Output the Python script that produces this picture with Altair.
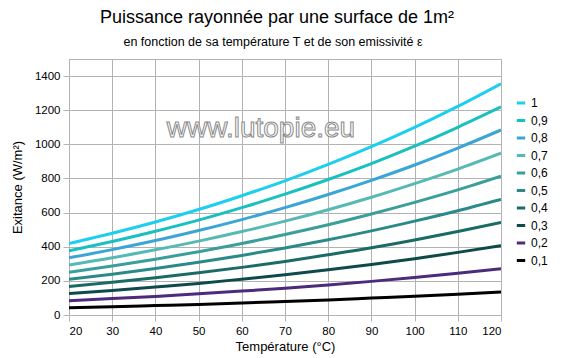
import altair as alt
import pandas as pd

temperatures = [20, 30, 40, 50, 60, 70, 80, 90, 100, 110, 120]
labels = ["1", "0,9", "0,8", "0,7", "0,6", "0,5", "0,4", "0,3", "0,2", "0,1"]
s_10 = [419, 479, 545, 618, 699, 786, 882, 986, 1099, 1222, 1355]
s_09 = [377, 431, 491, 556, 629, 708, 794, 887, 989, 1100, 1219]
s_08 = [335, 383, 436, 495, 559, 629, 706, 789, 879, 978, 1084]
s_07 = [293, 335, 382, 433, 489, 550, 617, 690, 770, 855, 948]
s_06 = [251, 287, 327, 371, 419, 472, 529, 592, 660, 733, 813]
s_05 = [209, 239, 273, 309, 349, 393, 441, 493, 550, 611, 677]
s_04 = [167, 192, 218, 247, 279, 314, 353, 394, 440, 489, 542]
s_03 = [126, 144, 164, 185, 210, 236, 265, 296, 330, 367, 406]
s_02 = [84, 96, 109, 124, 140, 157, 176, 197, 220, 244, 271]
s_01 = [42, 48, 55, 62, 70, 79, 88, 99, 110, 122, 135]
series = [s_10, s_09, s_08, s_07, s_06, s_05, s_04, s_03, s_02, s_01]
colors = ["#1ccfee", "#19c0c0", "#3aa6d6", "#56b9b4", "#3a9f9a",
          "#2a8a8a", "#1a6b66", "#0e4a4a", "#4c2a7c", "#000000"]

rows = []
for lab, vals in zip(labels, series):
    for t, v in zip(temperatures, vals):
        rows.append({"T": t, "P": v, "eps": lab})
df = pd.DataFrame(rows)

FONT = "Liberation Sans"

lines = alt.Chart(df).mark_line(strokeWidth=3, interpolate="monotone", clip=True).encode(
    x=alt.X("T:Q", scale=alt.Scale(domain=[20, 120], nice=False),
            axis=alt.Axis(values=temperatures, title="Température (°C)",
                          titleFontSize=13, titleFontWeight="normal", titlePadding=4,
                          labelFontSize=11.5, labelPadding=4, tickSize=6, format="d")),
    y=alt.Y("P:Q", scale=alt.Scale(domain=[0, 1500], nice=False),
            axis=alt.Axis(values=[0, 200, 400, 600, 800, 1000, 1200, 1400],
                          title="Exitance (W/m²)", titleFontSize=13,
                          titleFontWeight="normal", titlePadding=10,
                          labelFontSize=11.5, labelPadding=3, tickSize=6, format="d")),
    color=alt.Color("eps:N", scale=alt.Scale(domain=labels, range=colors),
                    sort=labels,
                    legend=alt.Legend(title=None, orient="none", legendX=446, legendY=38,
                                      symbolType="stroke", symbolStrokeWidth=3,
                                      symbolSize=70, labelFontSize=12, labelFont=FONT,
                                      rowPadding=5.5, labelOffset=4)),
    detail="eps:N",
)

wm = alt.Chart(pd.DataFrame({"t": ["www.lutopie.eu"]})).mark_text(
    font=FONT, fontSize=28, fill="white", stroke="#8a8a8a", strokeWidth=1,
    align="center", baseline="alphabetic"
).encode(text="t:N", x=alt.value(192), y=alt.value(78))

title = alt.Chart(pd.DataFrame({"t": ["Puissance rayonnée par une surface de 1m²"]})).mark_text(
    font=FONT, fontSize=18, color="black", align="center", baseline="alphabetic"
).encode(text="t:N", x=alt.value(208), y=alt.value(-36))

subtitle = alt.Chart(pd.DataFrame({"t": ["en fonction de sa température T et de son emissivité ε"]})).mark_text(
    font=FONT, fontSize=12.5, color="black", align="center", baseline="alphabetic"
).encode(text="t:N", x=alt.value(204), y=alt.value(-13))

chart = alt.layer(lines, wm, title, subtitle).properties(
    width=432, height=256,
    autosize=alt.AutoSizeParams(type="none"),
    padding={"left": 69, "top": 59, "right": 82, "bottom": 43},
).configure(font=FONT, background="white").configure_view(
    stroke="#b3b3b3", strokeWidth=1
).configure_axis(
    gridColor="#b3b3b3", domainColor="#b3b3b3", tickColor="#b3b3b3",
    labelColor="black", titleColor="black", labelFont=FONT, titleFont=FONT,
    grid=True,
)

chart.save("out.html", embed_options={"renderer": "svg", "actions": False})
